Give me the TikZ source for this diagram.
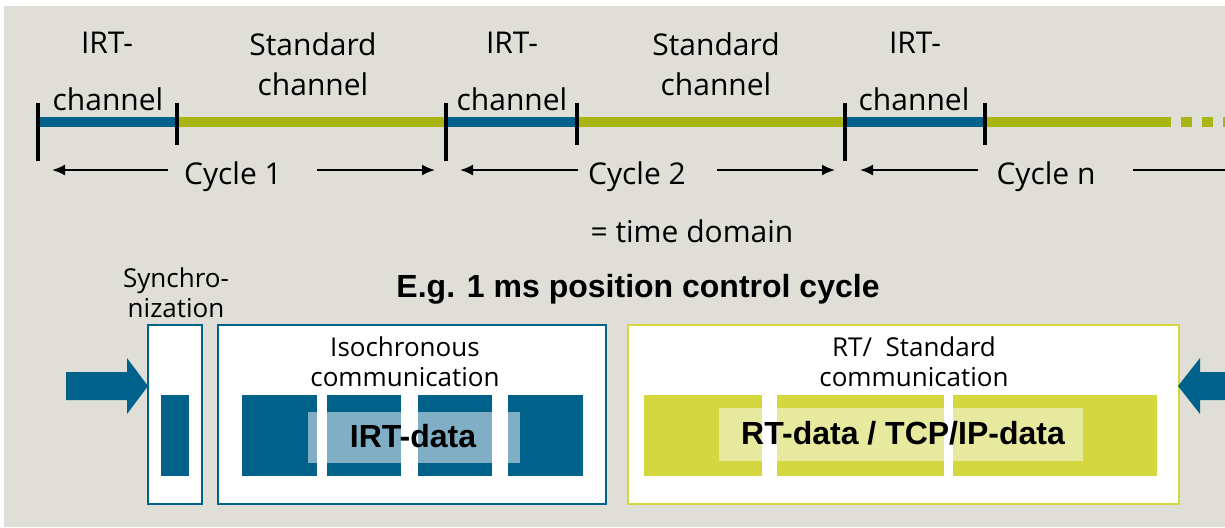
\documentclass[tikz,border=0pt]{standalone}
\usepackage{fontspec}
\setmainfont{Open Sans}
\newfontfamily\boldsans{Liberation Sans}
\usepackage{xcolor}
\usetikzlibrary{arrows.meta}

\definecolor{bggrey}{HTML}{DFDFD7}
\definecolor{irtblue}{HTML}{00628B}
\definecolor{stdgreen}{HTML}{A9B415}
\definecolor{rtgreen}{HTML}{D4D740}
\definecolor{irtlight}{HTML}{80AFC5}
\definecolor{rtlight}{HTML}{E7E99E}

\tikzset{
  toplbl/.style={anchor=base, inner sep=0pt, font=\fontsize{15}{18}\selectfont},
  boxlbl/.style={anchor=base, inner sep=0pt, font=\fontsize{13}{15}\selectfont},
  datalbl/.style={anchor=base, inner sep=0pt, font=\boldsans\bfseries\fontsize{16}{19}\selectfont},
  bartick/.style={line width=2pt},
  cycarrow/.style={line width=1pt, -{Latex[length=6.5pt,width=5.5pt]}},
}

\begin{document}
\begin{tikzpicture}[x=0.5pt,y=-0.5pt]
        \useasboundingbox (0,0) rectangle (1225,527);
        \fill[bggrey] (4,6) rectangle (1225,527);

        \draw[line width=5pt,irtblue] (38,122) -- (177,122);
        \draw[line width=5pt,stdgreen] (177,122) -- (446,122);
        \draw[line width=5pt,irtblue] (446,122) -- (577,122);
        \draw[line width=5pt,stdgreen] (577,122) -- (845,122);
        \draw[line width=5pt,irtblue] (845,122) -- (985,122);
        \draw[line width=5pt,stdgreen] (985,122) -- (1171,122);
        \draw[line width=5pt,stdgreen,dash pattern=on 5.5pt off 5pt] (1181,122) -- (1225,122);

        \foreach \x in {38,446,845} \draw[bartick] (\x,103) -- (\x,161);
        \foreach \x in {177,577,985} \draw[bartick] (\x,103) -- (\x,145);

        \node[toplbl] (irt1) at (107,53) {IRT-};
        \node[toplbl] (chan1) at (108,110) {channel};
        \node[toplbl] (std1) at (313,55) {Standard};
        \node[toplbl] (stdchan1) at (313,95) {channel};
        \node[toplbl] (irt2) at (512,53) {IRT-};
        \node[toplbl] (chan2) at (512,110) {channel};
        \node[toplbl] (std2) at (716,55) {Standard};
        \node[toplbl] (stdchan2) at (716,95) {channel};
        \node[toplbl] (irt3) at (915,53) {IRT-};
        \node[toplbl] (chan3) at (914,110) {channel};

        \node[toplbl] (cycle1) at (233,184) {Cycle 1};
        \node[toplbl] (cycle2) at (637,184) {Cycle 2};
        \node[toplbl] (cyclen) at (1046,184) {Cycle n};
        \coordinate (c1a) at (168,170);
        \coordinate (c1b) at (52,170);
        \coordinate (c1c) at (317,170);
        \coordinate (c1d) at (435,170);
        \coordinate (c2a) at (578,170);
        \coordinate (c2b) at (460,170);
        \coordinate (c2c) at (717,170);
        \coordinate (c2d) at (835,170);
        \coordinate (cna) at (978,170);
        \coordinate (cnb) at (860,170);
        \coordinate (cnc) at (1133,170);
        \coordinate (cnd) at (1225,170);
        \draw[cycarrow] (c1a) -- (c1b);
        \draw[cycarrow] (c1c) -- (c1d);
        \draw[cycarrow] (c2a) -- (c2b);
        \draw[cycarrow] (c2c) -- (c2d);
        \draw[cycarrow] (cna) -- (cnb);
        \draw[line width=1pt] (cnc) -- (cnd);

        \node[toplbl] (domain) at (692,242) {= time domain};
        \node[datalbl] (title) at (638,297) {E.g. 1 ms position control cycle};

        \node[boxlbl] (sync1) at (176,287) {Synchro-};
        \node[boxlbl] (sync2) at (176,317) {nization};
        \draw[line width=1pt,irtblue,fill=white] (148,325) rectangle (202,504);
        \fill[irtblue] (161,395) rectangle (189,476);
        \fill[irtblue] (66,372) -- (127,372) -- (127,358) -- (148,386) -- (127,414) -- (127,400) -- (66,400) -- cycle;

        \draw[line width=1pt,irtblue,fill=white] (218,325) rectangle (606,504);
        \node[boxlbl] (iso1) at (405,356) {Isochronous};
        \node[boxlbl] (iso2) at (405,386) {communication};
        \fill[irtblue] (242,395) rectangle (583,476);
        \fill[irtlight] (308,412) rectangle (520,463);
        \fill[white] (317,395) rectangle (327,476);
        \fill[white] (401,395) rectangle (418,476);
        \fill[white] (492,395) rectangle (508,476);
        \node[datalbl] (irtdata) at (413,447) {IRT-data};

        \draw[line width=1pt,rtgreen,fill=white] (628,325) rectangle (1179,504);
        \node[boxlbl] (rt1) at (914,356) {RT/\ \ Standard};
        \node[boxlbl] (rt2) at (914,386) {communication};
        \fill[rtgreen] (644,395) rectangle (1157,476);
        \fill[rtlight] (719,408) rectangle (1083,461);
        \fill[white] (762,395) rectangle (777,476);
        \fill[white] (944,395) rectangle (953,476);
        \node[datalbl] (rtdata) at (903,444) {RT-data / TCP/IP-data};
        \fill[irtblue] (1225,372) -- (1200,372) -- (1200,358) -- (1178,386) -- (1200,414) -- (1200,400) -- (1225,400) -- cycle;
      \end{tikzpicture}
\end{document}
